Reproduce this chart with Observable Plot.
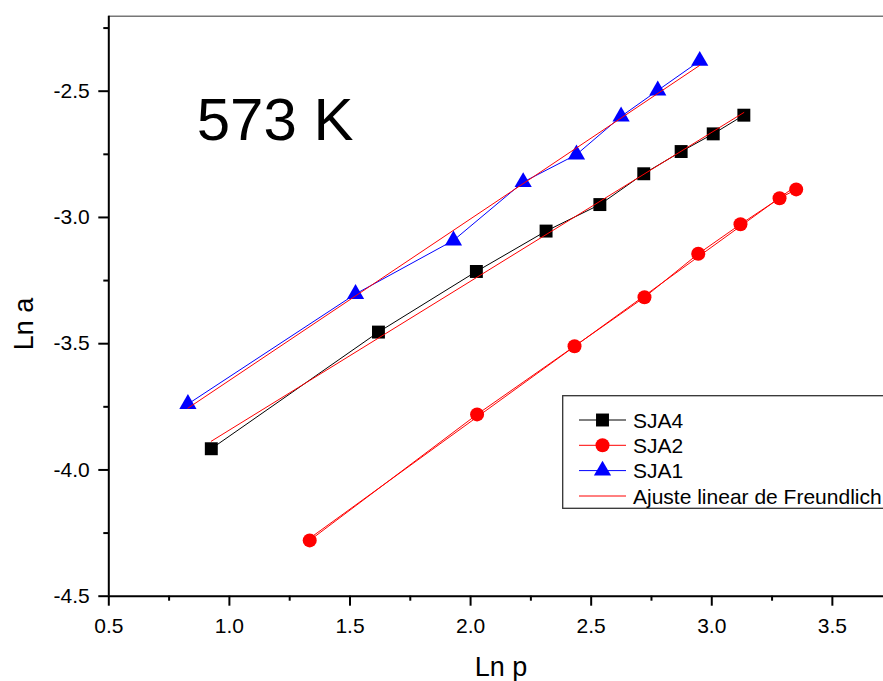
<!DOCTYPE html>
<html>
<head>
<meta charset="utf-8">
<script src="https://cdn.jsdelivr.net/npm/d3@7"></script>
<script src="https://cdn.jsdelivr.net/npm/@observablehq/plot@0.6"></script>
<style>
  html, body { margin: 0; padding: 0; background: #fff; overflow: hidden; }
  #chart svg { display: block; }
</style>
</head>
<body>
<div id="chart"></div>
<script>
// ---- data ----
const seriesNames = ["SJA4", "SJA2", "SJA1"];
const seriesColors = ["#000000", "#ff0000", "#0000ff"];
const seriesSymbols = ["square", "circle", "triangle"];
const fitLabel = "Ajuste linear de Freundlich";
const panelTitle = "573 K";
const xLabel = "Ln p";
const yLabel = "Ln a";

const sja4X = [0.925, 1.618, 2.024, 2.313, 2.536, 2.718, 2.873, 3.006, 3.133];
const sja4Y = [-3.916, -3.454, -3.214, -3.054, -2.949, -2.827, -2.739, -2.669, -2.595];
const sja2X = [1.333, 2.027, 2.431, 2.721, 2.944, 3.119, 3.281, 3.350];
const sja2Y = [-4.279, -3.780, -3.510, -3.316, -3.144, -3.027, -2.924, -2.889];
const sja1X = [0.828, 1.523, 1.929, 2.218, 2.439, 2.624, 2.776, 2.950];
const sja1Y = [-3.739, -3.303, -3.091, -2.860, -2.751, -2.600, -2.497, -2.380];

const xTicks = [0.5, 1.0, 1.5, 2.0, 2.5, 3.0, 3.5];
const xMinorTicks = [0.75, 1.25, 1.75, 2.25, 2.75, 3.25];
const yTicks = [-4.5, -4.0, -3.5, -3.0, -2.5];
const yMinorTicks = [-4.25, -3.75, -3.25, -2.75, -2.25];
const xDomain = [0.5, 3.712];
const yDomain = [-4.5, -2.203];

// ---- table ----
const table = [];
[[sja4X, sja4Y], [sja2X, sja2Y], [sja1X, sja1Y]].forEach(([xs, ys], i) => {
  xs.forEach((x, j) => table.push({series: seriesNames[i], x, y: ys[j]}));
});

const font = "'Liberation Sans', Arial, Helvetica, sans-serif";
const W = 883, H = 681;
const mL = 108.3, mT = 15.7, mB = 85.3, mR = 0;
const dotR = {SJA4: 7.3, SJA2: 7, SJA1: 6.4};

const fmt = d => d.toFixed(1);

const marks = [
  Plot.ruleY([yDomain[1]], {stroke: "#777", strokeWidth: 1.5}),
  Plot.line(table, {x: "x", y: "y", z: "series", stroke: "series", strokeWidth: 1}),
];
seriesNames.forEach((s, i) => {
  marks.push(Plot.dot(table.filter(d => d.series === s), {
    x: "x", y: "y", r: dotR[s], symbol: () => seriesSymbols[i], fill: seriesColors[i], stroke: "none"
  }));
});
marks.push(
  Plot.linearRegressionY(table, {x: "x", y: "y", z: "series", stroke: "#ff0000", strokeWidth: 1, ci: 0}),
  Plot.ruleX([xDomain[0]], {stroke: "#000", strokeWidth: 2}),
  Plot.ruleY([yDomain[0]], {stroke: "#000", strokeWidth: 2}),
  Plot.axisX({ticks: xTicks, tickSize: 10, tickPadding: 12, strokeWidth: 2, tickFormat: fmt, label: null, fontSize: 21}),
  Plot.axisX({ticks: xMinorTicks, tickSize: 5, strokeWidth: 2, tickFormat: () => "", label: null}),
  Plot.axisY({ticks: yTicks, tickSize: 10, tickPadding: 9, strokeWidth: 2, tickFormat: fmt, label: null, fontSize: 21}),
  Plot.axisY({ticks: yMinorTicks, tickSize: 5, strokeWidth: 2, tickFormat: () => "", label: null})
);

const chart = Plot.plot({
  width: W, height: H,
  marginLeft: mL, marginRight: mR, marginTop: mT, marginBottom: mB,
  x: {domain: xDomain},
  y: {domain: yDomain},
  color: {domain: seriesNames, range: seriesColors},
  symbol: {domain: seriesNames, range: seriesSymbols},
  style: {fontFamily: font, fontSize: "21px", background: "#fff", color: "#000", overflow: "visible"},
  marks
});
document.getElementById("chart").appendChild(chart);

// ---- annotations, axis titles, legend ----
const svg = d3.select(chart);
svg.append("text").attr("x", 196.7).attr("y", 140).attr("text-anchor", "start").attr("font-family", font)
  .attr("font-size", 60).attr("fill", "#000").text(panelTitle);
svg.append("text").attr("x", 501).attr("y", 676).attr("text-anchor", "middle")
  .attr("font-family", font).attr("font-size", 27).attr("fill", "#000").text(xLabel);
svg.append("text").attr("transform", "translate(33,324) rotate(-90)").attr("text-anchor", "middle")
  .attr("font-family", font).attr("font-size", 27).attr("fill", "#000").text(yLabel);

const lg = svg.append("g");
lg.append("rect").attr("x", 562.7).attr("y", 395.7).attr("width", 340).attr("height", 112.6)
  .attr("fill", "#fff").attr("stroke", "#333").attr("stroke-width", 1.3);
const rowsY = [420, 445.3, 470.6, 496];
const symMap = {square: d3.symbolSquare, circle: d3.symbolCircle, triangle: d3.symbolTriangle};
seriesNames.forEach((s, i) => {
  const y = rowsY[i];
  lg.append("line").attr("x1", 579).attr("x2", 626).attr("y1", y).attr("y2", y)
    .attr("stroke", seriesColors[i]).attr("stroke-width", 1);
  lg.append("path").attr("transform", `translate(602.5,${y})`)
    .attr("d", d3.symbol(symMap[seriesSymbols[i]], Math.PI * dotR[s] * dotR[s])())
    .attr("fill", seriesColors[i]);
  lg.append("text").attr("x", 633).attr("y", y).attr("dy", "0.36em").attr("text-anchor", "start")
    .attr("font-family", font).attr("font-size", 21).attr("fill", "#000").text(s);
});
lg.append("line").attr("x1", 579).attr("x2", 626).attr("y1", rowsY[3]).attr("y2", rowsY[3])
  .attr("stroke", "#ff0000").attr("stroke-width", 1);
lg.append("text").attr("x", 633).attr("y", rowsY[3]).attr("dy", "0.36em").attr("text-anchor", "start")
  .attr("font-family", font).attr("font-size", 21).attr("fill", "#000").text(fitLabel);
</script>
</body>
</html>
